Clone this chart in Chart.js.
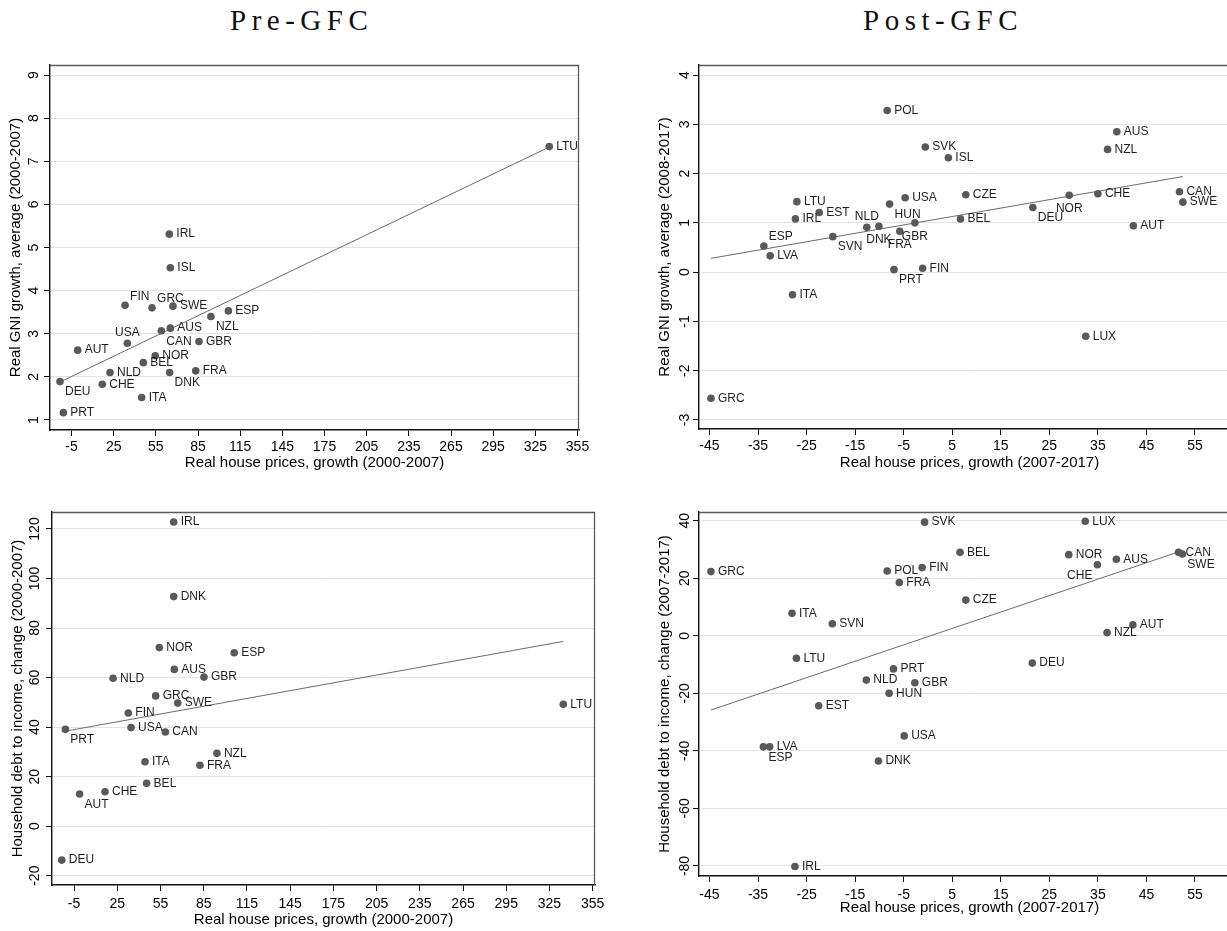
<!DOCTYPE html>
<html>
<head>
<meta charset="utf-8">
<script src="https://cdn.jsdelivr.net/npm/chart.js@4.4.1/dist/chart.umd.min.js"></script>
<style>
  html, body { margin: 0; padding: 0; background: #fff; overflow: hidden; width: 1227px; height: 931px; }
  .panel { position: absolute; }
  .head { position: absolute; top: 5px; font-family: "Liberation Serif", "DejaVu Serif", serif; font-size: 29px; line-height: 30px; letter-spacing: 5.5px; color: #111; }
</style>
</head>
<body>
<div class="head" style="left:230px">Pre-GFC</div>
<div class="head" style="left:863px">Post-GFC</div>
<div class="panel" style="left:0;top:40px"><canvas id="c1" width="605" height="436"></canvas></div>
<div class="panel" style="left:649px;top:40px"><canvas id="c2" width="611" height="436"></canvas></div>
<div class="panel" style="left:0;top:480px"><canvas id="c3" width="620" height="451"></canvas></div>
<div class="panel" style="left:649px;top:480px"><canvas id="c4" width="611" height="441"></canvas></div>
<script>
// Pre-GFC: real GNI growth vs house prices (2000-2007)
const preGniCountries = ["LTU","IRL","ISL","FIN","GRC","SWE","ESP","NZL","USA","CAN","AUS","GBR","AUT","NOR","BEL","NLD","DNK","FRA","DEU","CHE","ITA","PRT"];
const preGniHouse = [334.9, 64.6, 65.3, 33.1, 52.3, 67.2, 106.6, 94.2, 34.7, 58.9, 65.3, 85.7, -0.6, 54.6, 46.1, 22.4, 64.8, 83.4, -13.2, 16.9, 44.9, -10.8];
const preGniGrowth = [7.34, 5.31, 4.53, 3.66, 3.60, 3.64, 3.53, 3.40, 2.78, 3.07, 3.13, 2.82, 2.62, 2.49, 2.33, 2.10, 2.10, 2.14, 1.89, 1.83, 1.52, 1.17];
const preGniFit = [[-13.2, 1.88], [334.9, 7.33]];

// Post-GFC: real GNI growth vs house prices (2007/2008-2017)
const postGniCountries = ["POL","SVK","ISL","AUS","NZL","LTU","EST","IRL","NLD","DNK","HUN","USA","FRA","GBR","SVN","ESP","LVA","PRT","ITA","GRC","CZE","NOR","CHE","DEU","BEL","CAN","SWE","AUT","FIN","LUX"];
const postGniHouse = [-8.4, -0.55, 4.2, 38.9, 37.0, -27.0, -22.4, -27.3, -12.6, -10.1, -7.9, -4.7, -5.8, -2.7, -19.6, -33.8, -32.5, -7.0, -27.9, -44.7, 7.8, 29.1, 35.0, 21.6, 6.7, 51.8, 52.5, 42.3, -1.1, 32.5];
const postGniGrowth = [3.28, 2.54, 2.32, 2.85, 2.49, 1.43, 1.21, 1.08, 0.91, 0.93, 1.38, 1.51, 0.83, 1.00, 0.72, 0.53, 0.33, 0.05, -0.46, -2.56, 1.57, 1.56, 1.59, 1.31, 1.08, 1.63, 1.42, 0.94, 0.08, -1.30];
const postGniFit = [[-44.7, 0.28], [52.5, 1.94]];

// Pre-GFC: household debt to income vs house prices (2000-2007)
const preDebtCountries = ["IRL","DNK","NOR","ESP","AUS","GBR","NLD","GRC","SWE","FIN","PRT","USA","CAN","NZL","FRA","ITA","BEL","CHE","AUT","DEU","LTU"];
const preDebtHouse = [64.2, 64.2, 54.2, 106.2, 64.6, 85.2, 22.1, 51.7, 67.0, 32.7, -11.0, 34.6, 58.4, 94.2, 82.4, 44.3, 45.4, 16.5, -1.1, -13.5, 334.6];
const preDebtChange = [122.8, 92.7, 72.1, 70.0, 63.3, 60.2, 59.7, 52.6, 49.7, 45.7, 39.1, 39.8, 38.0, 29.4, 24.6, 26.0, 17.3, 13.9, 13.0, -13.7, 49.2];
const preDebtFit = [[-13.5, 38.1], [334.6, 74.6]];

// Post-GFC: household debt to income vs house prices (2007-2017)
const postDebtCountries = ["GRC","POL","FRA","ITA","SVN","LTU","PRT","NLD","GBR","HUN","EST","USA","ESP","LVA","DNK","IRL","SVK","LUX","BEL","NOR","AUS","CHE","FIN","CAN","SWE","CZE","AUT","NZL","DEU"];
const postDebtHouse = [-44.7, -8.4, -5.9, -28.0, -19.7, -27.1, -7.1, -12.7, -2.7, -8.0, -22.5, -4.9, -33.9, -32.6, -10.2, -27.4, -0.7, 32.4, 6.6, 29.0, 38.8, 34.9, -1.2, 51.6, 52.4, 7.8, 42.2, 36.9, 21.5];
const postDebtChange = [22.3, 22.5, 18.5, 7.8, 4.2, -7.8, -11.5, -15.4, -16.3, -20.0, -24.3, -34.8, -38.6, -38.6, -43.5, -80.2, 39.5, 39.8, 29.0, 28.2, 26.6, 24.7, 23.7, 29.0, 28.4, 12.4, 3.8, 1.1, -9.5];
const postDebtFit = [[-44.7, -25.8], [52.4, 29.6]];

// tick labels
const preXTicks = [-5, 25, 55, 85, 115, 145, 175, 205, 235, 265, 295, 325, 355];
const postXTicks = [-45, -35, -25, -15, -5, 5, 15, 25, 35, 45, 55];
const preGniYTicks = [1, 2, 3, 4, 5, 6, 7, 8, 9];
const postGniYTicks = [-3, -2, -1, 0, 1, 2, 3, 4];
const preDebtYTicks = [-20, 0, 20, 40, 60, 80, 100, 120];
const postDebtYTicks = [-80, -60, -40, -20, 0, 20, 40];

// label placement (clock position, stata style), kept apart from the data
const preGniPos = [3,3,3,1,1,3,3,5,12,5,3,3,3,3,3,3,5,3,5,3,3,3];
const postGniPos = [3,3,3,3,3,3,3,3,12,6,5,3,6,6,5,1,3,5,3,3,3,6,3,5,3,3,3,3,3,3];
const preDebtPos = [3,3,3,3,3,3,3,3,3,3,5,3,3,3,3,3,3,3,5,3,3];
const postDebtPos = [3,3,3,3,3,3,3,3,3,3,3,3,5,3,3,3,3,3,3,3,3,7,3,3,5,3,3,3,3];

const FONT = '"Liberation Sans", Arial, Helvetica, sans-serif';
Chart.defaults.font.family = FONT;
Chart.defaults.color = '#000';

const OFFSETS = {
  3: [7, 0, 'left'], 9: [-7, 0, 'right'],
  12: [0, -11, 'center'], 6: [0, 13.5, 'center'],
  1: [5, -9, 'left'], 5: [5, 10.5, 'left'], 7: [-5, 10.5, 'right']
};

const labelPlugin = {
  id: 'ptLabels',
  afterDatasetsDraw(chart, args, opts) {
    const meta = chart.getDatasetMeta(0);
    const ctx = chart.ctx;
    ctx.save();
    ctx.font = '12px ' + FONT;
    ctx.fillStyle = '#1e1e1e';
    ctx.textBaseline = 'middle';
    meta.data.forEach((pt, i) => {
      const o = OFFSETS[opts.pos[i]] || OFFSETS[3];
      ctx.textAlign = o[2];
      ctx.fillText(opts.labels[i], pt.x + o[0], pt.y + o[1]);
    });
    ctx.restore();
  }
};

// y tick labels turned sideways, like the stata export
const yTickPlugin = {
  id: 'yRotTicks',
  afterDraw(chart, args, opts) {
    const s = chart.scales.y;
    const ctx = chart.ctx;
    ctx.save();
    ctx.font = '14px ' + FONT;
    ctx.fillStyle = '#000';
    ctx.textAlign = 'center';
    ctx.textBaseline = 'middle';
    s.ticks.forEach(t => {
      ctx.save();
      ctx.translate(s.right - opts.gap, s.getPixelForValue(t.value));
      ctx.rotate(-Math.PI / 2);
      ctx.fillText(String(t.value), 0, 0);
      ctx.restore();
    });
    ctx.restore();
  }
};

const framePlugin = {
  id: 'frame',
  afterDraw(chart) {
    const a = chart.chartArea;
    const ctx = chart.ctx;
    ctx.save();
    ctx.strokeStyle = '#5a5a5a';
    ctx.lineWidth = 1.3;
    ctx.beginPath();
    ctx.moveTo(a.left, a.top + 0.5);
    ctx.lineTo(a.right - 0.5, a.top + 0.5);
    ctx.lineTo(a.right - 0.5, a.bottom);
    ctx.stroke();
    ctx.restore();
  }
};

function makePanel(id, cfg) {
  const pts = cfg.x.map((v, i) => ({ x: v, y: cfg.y[i] }));
  const fit = cfg.fit.map(p => ({ x: p[0], y: p[1] }));
  return new Chart(document.getElementById(id), {
    type: 'scatter',
    data: {
      datasets: [
        {
          data: pts,
          pointRadius: 3.8,
          pointBackgroundColor: '#595959',
          pointBorderWidth: 0,
          pointHoverRadius: 3.8
        },
        {
          type: 'line',
          data: fit,
          borderColor: '#6a6a6a',
          borderWidth: 1,
          pointRadius: 0,
          fill: false
        }
      ]
    },
    options: {
      responsive: false,
      animation: false,
      events: [],
      layout: { autoPadding: false, padding: { top: cfg.padTop, right: cfg.padRight, left: 0, bottom: 0 } },
      scales: {
        x: {
          type: 'linear',
          min: cfg.xMin,
          max: cfg.xMax,
          afterBuildTicks: s => { s.ticks = cfg.xTicks.map(v => ({ value: v })); },
          afterFit: s => { s.height = cfg.xHeight; },
          grid: { drawOnChartArea: false, drawTicks: true, tickLength: 6, tickColor: '#111', color: '#111' },
          border: { display: true, color: '#111', width: 1.4 },
          ticks: { font: { size: 14 }, color: '#000', padding: cfg.xPad, maxRotation: 0, autoSkip: false },
          title: { display: true, text: cfg.xTitle, font: { size: 15 }, color: '#000', padding: { top: 0, bottom: cfg.xTitlePad } }
        },
        y: {
          type: 'linear',
          min: cfg.yMin,
          max: cfg.yMax,
          afterBuildTicks: s => { s.ticks = cfg.yTicks.map(v => ({ value: v })); },
          afterFit: s => { s.width = cfg.yWidth; },
          grid: { color: '#e3e3e3', lineWidth: 1, drawTicks: true, tickLength: 6, tickColor: '#111' },
          border: { display: true, color: '#111', width: 1.4 },
          ticks: { display: false },
          title: { display: true, text: cfg.yTitle, font: { size: 15 }, color: '#000', padding: { top: cfg.yTitlePad, bottom: 0 } }
        }
      },
      plugins: {
        legend: { display: false },
        tooltip: { enabled: false },
        ptLabels: { labels: cfg.labels, pos: cfg.pos },
        yRotTicks: { gap: cfg.yGap }
      }
    },
    plugins: [labelPlugin, yTickPlugin, framePlugin]
  });
}

makePanel('c1', {
  x: preGniHouse, y: preGniGrowth, fit: preGniFit, labels: preGniCountries, pos: preGniPos,
  xTicks: preXTicks, yTicks: preGniYTicks,
  xMin: -20.3, xMax: 356.06, yMin: 0.768, yMax: 9.232,
  padTop: 25, padRight: 26, xHeight: 46, yWidth: 50, xPad: 3, xTitlePad: 4, yTitlePad: 7, yGap: 16,
  xTitle: 'Real house prices, growth (2000-2007)', yTitle: 'Real GNI growth, average (2000-2007)'
});

makePanel('c2', {
  x: postGniHouse, y: postGniGrowth, fit: postGniFit, labels: postGniCountries, pos: postGniPos,
  xTicks: postXTicks, yTicks: postGniYTicks,
  xMin: -47.16, xMax: 64.27, yMin: -3.183, yMax: 4.203,
  padTop: 25, padRight: 20, xHeight: 47, yWidth: 50, xPad: 3, xTitlePad: 4, yTitlePad: 7, yGap: 14,
  xTitle: 'Real house prices, growth (2007-2017)', yTitle: 'Real GNI growth, average (2008-2017)'
});

makePanel('c3', {
  x: preDebtHouse, y: preDebtChange, fit: preDebtFit, labels: preDebtCountries, pos: preDebtPos,
  xTicks: preXTicks, yTicks: preDebtYTicks,
  xMin: -20.27, xMax: 356.6, yMin: -23.76, yMax: 126.86,
  padTop: 32, padRight: 25, xHeight: 46, yWidth: 52, xPad: 5, xTitlePad: 2, yTitlePad: 9, yGap: 17,
  xTitle: 'Real house prices, growth (2000-2007)', yTitle: 'Household debt to income, change (2000-2007)'
});

makePanel('c4', {
  x: postDebtHouse, y: postDebtChange, fit: postDebtFit, labels: postDebtCountries, pos: postDebtPos,
  xTicks: postXTicks, yTicks: postDebtYTicks,
  xMin: -47.16, xMax: 64.27, yMin: -83.48, yMax: 43.02,
  padTop: 32, padRight: 20, xHeight: 45, yWidth: 50, xPad: 5, xTitlePad: 4, yTitlePad: 7, yGap: 14,
  xTitle: 'Real house prices, growth (2007-2017)', yTitle: 'Household debt to income, change (2007-2017)'
});
</script>
</body>
</html>
